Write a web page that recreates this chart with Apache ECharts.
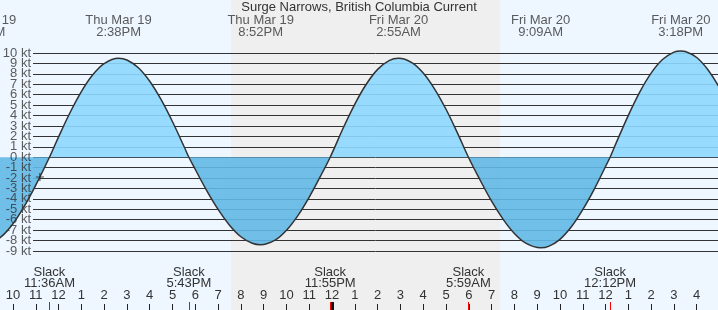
<!DOCTYPE html>
<html>
<head>
<meta charset="utf-8">
<script src="https://cdn.jsdelivr.net/npm/echarts@6/dist/echarts.min.js"></script>
<style>
html,body{margin:0;padding:0;background:#EEF6FF;}
#c{width:718px;height:310px;}
</style>
</head>
<body>
<div id="c"></div>
<script>
// Time in hours since Thu Mar 19 00:00 (local)
const viewStart = 9.43;   // left edge of the chart
const viewEnd = 40.934;   // right edge of the chart

// Current speed (kt)
const times = [8.684, 9, 9.5, 10, 10.5, 11, 11.6, 12, 12.5, 13, 13.5, 14, 14.633, 15, 15.5, 16, 16.5, 17, 17.5, 17.717,
  18, 18.5, 19, 19.5, 20, 20.5, 20.867, 21.5, 22, 22.5, 23, 23.5, 23.917, 24.5, 25, 25.5, 26, 26.5, 26.917,
  27.5, 28, 28.5, 29, 29.5, 29.983, 30.5, 31, 31.5, 32, 32.5, 33.15, 33.5, 34, 34.5, 35, 35.5, 36, 36.2,
  36.5, 37, 37.5, 38, 38.5, 39, 39.3, 39.5, 40, 40.5, 41, 41.5, 42];
const speeds = [-8.4, -8.28, -7.60, -6.38, -4.69, -2.67, 0, 1.95, 4.27, 6.30, 7.91, 8.99, 9.5, 9.33, 8.59, 7.29, 5.52, 3.40, 1.05, 0,
  -1.18, -3.20, -5.01, -6.52, -7.63, -8.26, -8.4, -7.96, -7.01, -5.60, -3.82, -1.79, 0, 2.85, 5.10, 7.00, 8.43, 9.27, 9.5,
  9.08, 8.08, 6.54, 4.60, 2.33, 0, -2.21, -4.22, -5.94, -7.32, -8.25, -8.7, -8.56, -7.88, -6.68, -5.03, -3.08, -0.89, 0,
  1.54, 4.02, 6.25, 8.07, 9.37, 10.08, 10.2, 10.15, 9.57, 8.37, 6.65, 4.49, 2.07];

// Max flood / ebb events (top labels)
const maxTimes = [8.684, 14.633, 20.867, 26.917, 33.15, 39.3];
const maxLabels = ['Thu Mar 19\n8:41AM', 'Thu Mar 19\n2:38PM', 'Thu Mar 19\n8:52PM', 'Fri Mar 20\n2:55AM', 'Fri Mar 20\n9:09AM', 'Fri Mar 20\n3:18PM'];

// Slack events (bottom labels, red ticks)
const slackTimes = [11.6, 17.717, 23.917, 29.983, 36.2];
const slackLabels = ['Slack\n11:36AM', 'Slack\n5:43PM', 'Slack\n11:55PM', 'Slack\n5:59AM', 'Slack\n12:12PM'];

// Hour ticks along the bottom
const hourTicks = [10,11,12,13,14,15,16,17,18,19,20,21,22,23,24,25,26,27,28,29,30,31,32,33,34,35,36,37,38,39,40];
const hourLabels = ['10','11','12','1','2','3','4','5','6','7','8','9','10','11','12','1','2','3','4','5','6','7','8','9','10','11','12','1','2','3','4'];
const dateChangeTimes = [24];

// Speed ticks (kt)
const yTicks = [10, 9, 8, 7, 6, 5, 4, 3, 2, 1, 0, -1, -2, -3, -4, -5, -6, -7, -8, -9];

// Night (sunset -> sunrise)
const nightStart = 19.57;
const nightEnd = 31.37;

// Current marker
const nowPoint = [11.18, -1.9];

// y axis
const yMin = -9, yMax = 10, yStep = 1;

const FONT = 'Liberation Sans, Arial, sans-serif';
const TXT = '#333';

const curve = times.map((t, i) => [t, speeds[i]]);
const eventLabelPoints = maxTimes.map(t => [t, yMax]);
const yLabelPoints = yTicks.map(v => [viewStart, v]);

const chart = echarts.init(document.getElementById('c'), null, {renderer: 'canvas'});
const G = (o) => Object.assign({outerBoundsMode: 'none', containLabel: false}, o);
const HID = {show: false, axisLine: {show: false, onZero: false}, axisTick: {show: false}, axisLabel: {show: false}, splitLine: {show: false}, splitArea: {show: false}};
const hx = (gi, min, max) => Object.assign({gridIndex: gi, type: 'value', min: min, max: max}, HID);

chart.setOption({
  animation: false,
  backgroundColor: '#EEF6FF',
  textStyle: {fontFamily: FONT},
  title: {
    text: 'Surge Narrows, British Columbia Current',
    left: 'center', top: 1, padding: 0,
    textStyle: {fontSize: 13, fontWeight: 'normal', color: TXT, fontFamily: FONT}
  },
  grid: [
    G({left: 0, right: 0, top: 0, bottom: 0}),
    G({left: 0, right: 0, top: 53, bottom: 59}),
    G({left: 33, right: 0, top: 53, bottom: 59}),
    G({left: 0, right: 0, top: 0, bottom: 0}),
    G({left: 0, right: 0, top: 0, bottom: 0})
  ],
  xAxis: [
    {
      gridIndex: 0, type: 'value', min: viewStart, max: viewEnd, position: 'bottom', z: 2,
      axisLine: {show: false}, splitLine: {show: false},
      axisTick: {show: true, inside: true, length: 6, customValues: hourTicks, lineStyle: {color: '#222', width: 1}},
      axisLabel: {show: true, inside: true, margin: 8, customValues: hourTicks, fontSize: 13, color: TXT,
        showMinLabel: true, showMaxLabel: true, hideOverlap: false,
        formatter: v => hourLabels[hourTicks.indexOf(v)]}
    },
    hx(1, viewStart, viewEnd),
    hx(2, viewStart, viewEnd),
    {
      gridIndex: 3, type: 'value', min: viewStart, max: viewEnd, position: 'bottom', z: 2,
      axisLine: {show: false}, splitLine: {show: false},
      axisTick: {show: true, inside: true, length: 8, customValues: slackTimes, lineStyle: {color: '#ff0000', width: 1}},
      axisLabel: {show: true, inside: true, margin: 21, customValues: slackTimes, fontSize: 13, lineHeight: 11, color: TXT,
        showMinLabel: true, showMaxLabel: true, hideOverlap: false,
        formatter: v => slackLabels[slackTimes.indexOf(v)]}
    },
    {
      gridIndex: 4, type: 'value', min: viewStart, max: viewEnd, position: 'bottom', z: 2,
      axisLine: {show: false}, splitLine: {show: false},
      axisTick: {show: true, inside: true, length: 8, customValues: dateChangeTimes, lineStyle: {color: '#111', width: 3}},
      axisLabel: {show: false}
    }
  ],
  yAxis: [
    hx(0, 0, 1),
    hx(1, yMin, yMax),
    {
      gridIndex: 2, type: 'value', min: yMin, max: yMax, interval: yStep, z: 2,
      axisLine: {show: false, onZero: false}, axisTick: {show: false}, axisLabel: {show: false},
      splitLine: {show: true, lineStyle: {color: '#333', width: 1}}
    },
    hx(3, 0, 1),
    hx(4, 0, 1)
  ],
  visualMap: {
    type: 'piecewise', show: false, seriesIndex: 1, dimension: 1,
    pieces: [{gt: -50, lte: 0, color: '#62B9E6'}, {gt: 0, lte: 50, color: '#8DD8FF'}],
    outOfRange: {color: '#8DD8FF'}
  },
  series: [
    {
      type: 'line', xAxisIndex: 0, yAxisIndex: 0, z: 0, silent: true,
      data: [[viewStart, 0], [viewEnd, 0]], showSymbol: false, lineStyle: {width: 0, opacity: 0},
      markArea: {silent: true, itemStyle: {color: '#EFEFEF'}, data: [[{xAxis: nightStart}, {xAxis: nightEnd}]]}
    },
    {
      type: 'line', xAxisIndex: 1, yAxisIndex: 1, z: 3, silent: true, clip: false,
      data: curve, smooth: 0.35, showSymbol: false,
      lineStyle: {width: 0, opacity: 0},
      areaStyle: {opacity: 0.9}
    },
    {
      type: 'line', xAxisIndex: 1, yAxisIndex: 1, z: 4, silent: true, clip: false,
      data: curve, smooth: 0.35, showSymbol: false,
      lineStyle: {color: '#333', width: 1.5}
    },
    {
      type: 'scatter', xAxisIndex: 1, yAxisIndex: 1, z: 5, silent: true,
      data: [nowPoint], symbol: 'path://M5,0L5,10M0,5L10,5', symbolSize: 8,
      itemStyle: {color: 'rgba(0,0,0,0)', borderColor: '#222', borderWidth: 1.2}
    },
    {
      type: 'scatter', xAxisIndex: 1, yAxisIndex: 1, z: 5, silent: true, clip: false,
      data: eventLabelPoints, symbolSize: 0,
      label: {show: true, position: 'top', distance: 15, fontSize: 13, lineHeight: 12, color: TXT, fontFamily: FONT,
        formatter: p => maxLabels[p.dataIndex]}
    },
    {
      type: 'scatter', xAxisIndex: 2, yAxisIndex: 2, z: 6, silent: true, clip: false,
      data: yLabelPoints, symbolSize: 0,
      labelLayout: {hideOverlap: false},
      label: {show: true, position: 'left', distance: 2, fontSize: 13, color: TXT, fontFamily: FONT,
        formatter: p => yTicks[p.dataIndex] + ' kt'}
    }
  ]
});
</script>
</body>
</html>
